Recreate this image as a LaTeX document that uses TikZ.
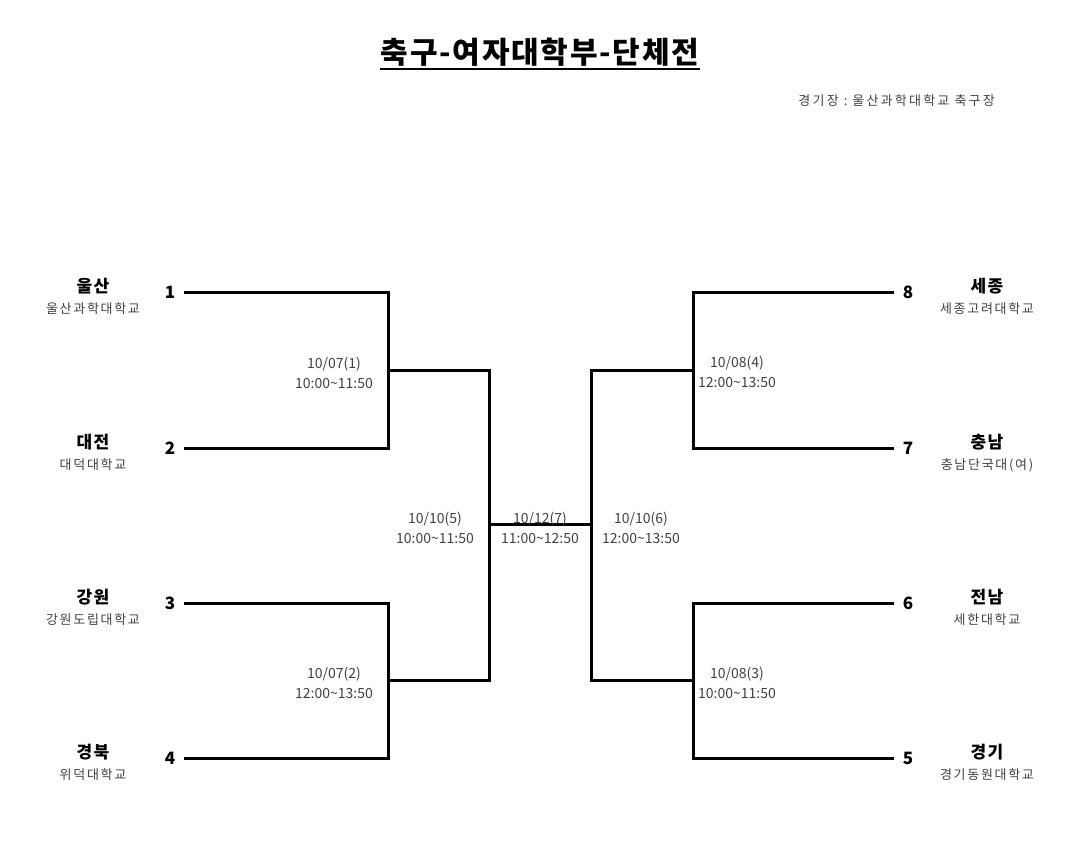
\documentclass[tikz,border=0pt]{standalone}
\usepackage{fontspec}
\setmainfont{Noto Sans CJK KR}
\newfontfamily\titlefont[LetterSpace=6]{Noto Sans CJK KR}
\newfontfamily\spacedfont[LetterSpace=13]{Noto Sans CJK KR}
\newfontfamily\venuefont[LetterSpace=17]{Noto Sans CJK KR}
\newfontfamily\namefont[LetterSpace=8]{Noto Sans CJK KR}
\usetikzlibrary{positioning}

\tikzset{
  seed/.style={font=\bfseries\fontsize{17}{17}\selectfont, inner xsep=9pt, inner ysep=2pt},
  teamname/.style={font=\namefont\bfseries\fontsize{17}{17}\selectfont, inner sep=0pt},
  school/.style={font=\spacedfont\fontsize{13}{13}\selectfont, text=black!75, inner sep=0pt},
  game/.style={align=center, font=\fontsize{14}{20}\selectfont, text=black!75, inner sep=0pt},
  bracket/.style={line width=3pt}
}

\begin{document}
\begin{tikzpicture}[x=1pt, y=-1pt]
				\useasboundingbox (0,0) rectangle (1080,846);
				% title and venue
				\node[font=\titlefont\bfseries\fontsize{30}{30}\selectfont, inner sep=0pt] (title) at (540,52) {축구-여자대학부-단체전};
				\draw[line width=1.8pt] ([yshift=-3pt]title.south west) -- ([yshift=-3pt]title.south east);
				\node[school, font=\venuefont\fontsize{13}{13}\selectfont, anchor=east] (venue) at (995,101) {경기장\hspace{5pt}:\hspace{5pt}울산과학대학교 축구장};
				% seeds
				\foreach \n/\y in {1/292, 2/448, 3/603, 4/758}
					\node[seed] (s\n) at (170,\y) {\n};
				\foreach \n/\y in {8/292, 7/448, 6/603, 5/758}
					\node[seed] (s\n) at (908,\y) {\n};
				% teams
				\foreach \n/\y/\name/\univ in {1/286/울산/울산과학대학교, 2/442/대전/대덕대학교, 3/597/강원/강원도립대학교, 4/752/경북/위덕대학교}
					\node[teamname] (t\n) at (93,\y) {\name} node[school, below=8pt of t\n] (u\n) {\univ};
				\foreach \n/\y/\name/\univ in {8/286/세종/세종고려대학교, 7/442/충남/충남단국대(여), 6/597/전남/세한대학교, 5/752/경기/경기동원대학교}
					\node[teamname] (t\n) at (987,\y) {\name} node[school, below=8pt of t\n] (u\n) {\univ};
				% joins
				\coordinate (j12) at (388,370);
				\coordinate (j34) at (388,680);
				\coordinate (j87) at (693,370);
				\coordinate (j65) at (693,680);
				\coordinate (semiL) at (489,524);
				\coordinate (semiR) at (591,524);
				% left bracket
				\draw[bracket] (s1.east) -- (s1.east -| j12) -- (s2.east -| j12) -- (s2.east);
				\draw[bracket] (s3.east) -- (s3.east -| j34) -- (s4.east -| j34) -- (s4.east);
				\draw[bracket] (j12) -- (j12 -| semiL) -- (j34 -| semiL) -- (j34);
				% right bracket
				\draw[bracket] (s8.west) -- (s8.west -| j87) -- (s7.west -| j87) -- (s7.west);
				\draw[bracket] (s6.west) -- (s6.west -| j65) -- (s5.west -| j65) -- (s5.west);
				\draw[bracket] (j87) -- (j87 -| semiR) -- (j65 -| semiR) -- (j65);
				% final
				\draw[bracket] (semiL) -- (semiR);
				% games
				\node[game] (g1) at (334,373) {10/07(1)\\10:00\textasciitilde11:50};
				\node[game] (g2) at (334,683) {10/07(2)\\12:00\textasciitilde13:50};
				\node[game] (g4) at (737,372) {10/08(4)\\12:00\textasciitilde13:50};
				\node[game] (g3) at (737,683) {10/08(3)\\10:00\textasciitilde11:50};
				\node[game] (g5) at (435,528) {10/10(5)\\10:00\textasciitilde11:50};
				\node[game] (g7) at (540,528) {10/12(7)\\11:00\textasciitilde12:50};
				\node[game] (g6) at (641,528) {10/10(6)\\12:00\textasciitilde13:50};
\end{tikzpicture}
\end{document}
